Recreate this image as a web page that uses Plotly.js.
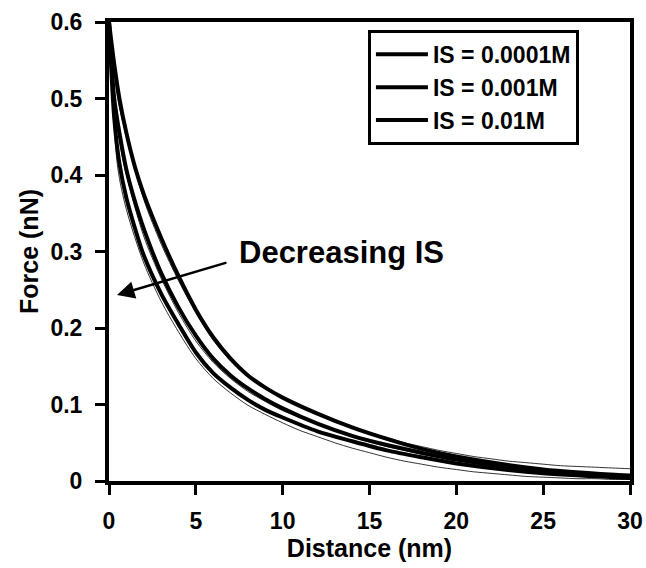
<!DOCTYPE html>
<html><head><meta charset="utf-8">
<script src="https://cdn.plot.ly/plotly-3.0.1.min.js"></script>
<style>html,body{margin:0;padding:0;background:#fff}#chart{width:646px;height:568px}</style>
</head><body><div id="chart"></div>
<script>
// Thick smoothed curves (distance nm, force nN)
const xCurve = [0, 0.3, 0.6, 1, 1.5, 2, 3, 4, 5, 6, 7, 8, 9, 10, 12, 14, 16, 18, 20, 25, 30];
const yLower = [0.6, 0.475, 0.415, 0.37, 0.33, 0.295, 0.245, 0.205, 0.168, 0.141, 0.122, 0.106, 0.093, 0.083, 0.065, 0.052, 0.04, 0.031, 0.023, 0.01, 0.004];
const yMiddle = [0.6, 0.5, 0.455, 0.407, 0.365, 0.33, 0.272, 0.227, 0.19, 0.16, 0.138, 0.121, 0.107, 0.095, 0.075, 0.059, 0.047, 0.037, 0.028, 0.013, 0.006];
const yUpper = [0.6, 0.545, 0.5, 0.455, 0.41, 0.375, 0.318, 0.268, 0.224, 0.188, 0.16, 0.138, 0.122, 0.109, 0.088, 0.07, 0.055, 0.042, 0.032, 0.015, 0.007];
// Thin raw traces
const xRaw = [0, 0.5, 1, 2, 3, 4, 5, 6, 7, 8, 9, 10, 11, 12, 13, 14, 15, 16, 17, 18, 19, 20, 21, 22, 23, 24, 25, 26, 27, 28, 29, 30];
const yRawA = [0.6, 0.5, 0.45, 0.368, 0.31, 0.262, 0.22, 0.184, 0.157, 0.138, 0.123, 0.11, 0.099, 0.089, 0.079, 0.071, 0.063, 0.057, 0.05, 0.045, 0.04, 0.036, 0.032, 0.029, 0.026, 0.024, 0.022, 0.02, 0.019, 0.018, 0.017, 0.016];
const yRawB = [0.6, 0.46, 0.4, 0.32, 0.265, 0.22, 0.183, 0.155, 0.134, 0.117, 0.104, 0.092, 0.083, 0.074, 0.066, 0.058, 0.051, 0.045, 0.04, 0.035, 0.031, 0.027, 0.024, 0.021, 0.018, 0.016, 0.014, 0.012, 0.011, 0.01, 0.009, 0.009];
const yRawC = [0.58, 0.41, 0.355, 0.285, 0.235, 0.195, 0.16, 0.134, 0.115, 0.099, 0.087, 0.076, 0.066, 0.058, 0.05, 0.043, 0.037, 0.031, 0.026, 0.022, 0.018, 0.015, 0.012, 0.01, 0.008, 0.006, 0.005, 0.004, 0.003, 0.003, 0.002, 0.002];
const seriesNames = ["IS = 0.0001M", "IS = 0.001M", "IS = 0.01M"];
const xTicks = [0, 5, 10, 15, 20, 25, 30];
const yTicks = [0, 0.1, 0.2, 0.3, 0.4, 0.5, 0.6];
const yTickText = ["0", "0.1", "0.2", "0.3", "0.4", "0.5", "0.6"];

const F = "Liberation Sans, Arial, sans-serif";
const thin = {color: "#000", width: 0.8, shape: "spline", smoothing: 0.8};
const thick = {color: "#000", width: 4, shape: "spline", smoothing: 0.8};
const traces = [
  {x: xRaw, y: yRawA, mode: "lines", line: thin, showlegend: false, hoverinfo: "skip"},
  {x: xRaw, y: yRawB, mode: "lines", line: thin, showlegend: false, hoverinfo: "skip"},
  {x: xRaw, y: yRawC, mode: "lines", line: thin, showlegend: false, hoverinfo: "skip"},
  {x: xCurve, y: yLower, name: seriesNames[0], mode: "lines", line: thick},
  {x: xCurve, y: yMiddle, name: seriesNames[1], mode: "lines", line: thick},
  {x: xCurve, y: yUpper, name: seriesNames[2], mode: "lines", line: thick}
];
const layout = {
  width: 646, height: 568,
  margin: {l: 109, r: 16, t: 22, b: 87},
  paper_bgcolor: "#fff", plot_bgcolor: "#fff",
  font: {family: F, color: "#000"},
  showlegend: true,
  legend: {x: 0.497, y: 0.983, xanchor: "left", yanchor: "top", bgcolor: "#fff",
    bordercolor: "#000", borderwidth: 3, font: {family: F, size: 23, weight: "bold", color: "#000"},
    tracegroupgap: 0, itemwidth: 52, traceorder: "normal"},
  xaxis: {range: [0, 30], tickvals: xTicks, showgrid: false, zeroline: false,
    showline: true, linecolor: "#000", linewidth: 4, mirror: true,
    ticks: "outside", ticklen: 10, tickwidth: 3, tickcolor: "#000", ticklabelstandoff: 6,
    tickfont: {family: F, size: 23, weight: "bold"},
    title: {text: "Distance (nm)", font: {family: F, size: 25, weight: "bold"}, standoff: 6}},
  yaxis: {range: [0, 0.6], tickvals: yTicks, ticktext: yTickText, showgrid: false, zeroline: false,
    showline: true, linecolor: "#000", linewidth: 4, mirror: true,
    ticks: "outside", ticklen: 10, tickwidth: 3, tickcolor: "#000", ticklabelstandoff: 8,
    tickfont: {family: F, size: 23, weight: "bold"},
    title: {text: "Force (nN)", font: {family: F, size: 25, weight: "bold"}, standoff: 6}},
  annotations: [
    {x: 0.46, y: 0.243, ax: 6.85, ay: 0.286, xref: "x", yref: "y", axref: "x", ayref: "y",
     text: "", showarrow: true, arrowhead: 2, arrowsize: 1.4, arrowwidth: 2.5, arrowcolor: "#000"},
    {x: 7.37, y: 0.299, xref: "x", yref: "y", xanchor: "left", yanchor: "middle",
     text: "Decreasing IS", showarrow: false, font: {family: F, size: 31, weight: "bold", color: "#000"}}
  ]
};
Plotly.newPlot("chart", traces, layout, {displayModeBar: false, staticPlot: true});
</script></body></html>
